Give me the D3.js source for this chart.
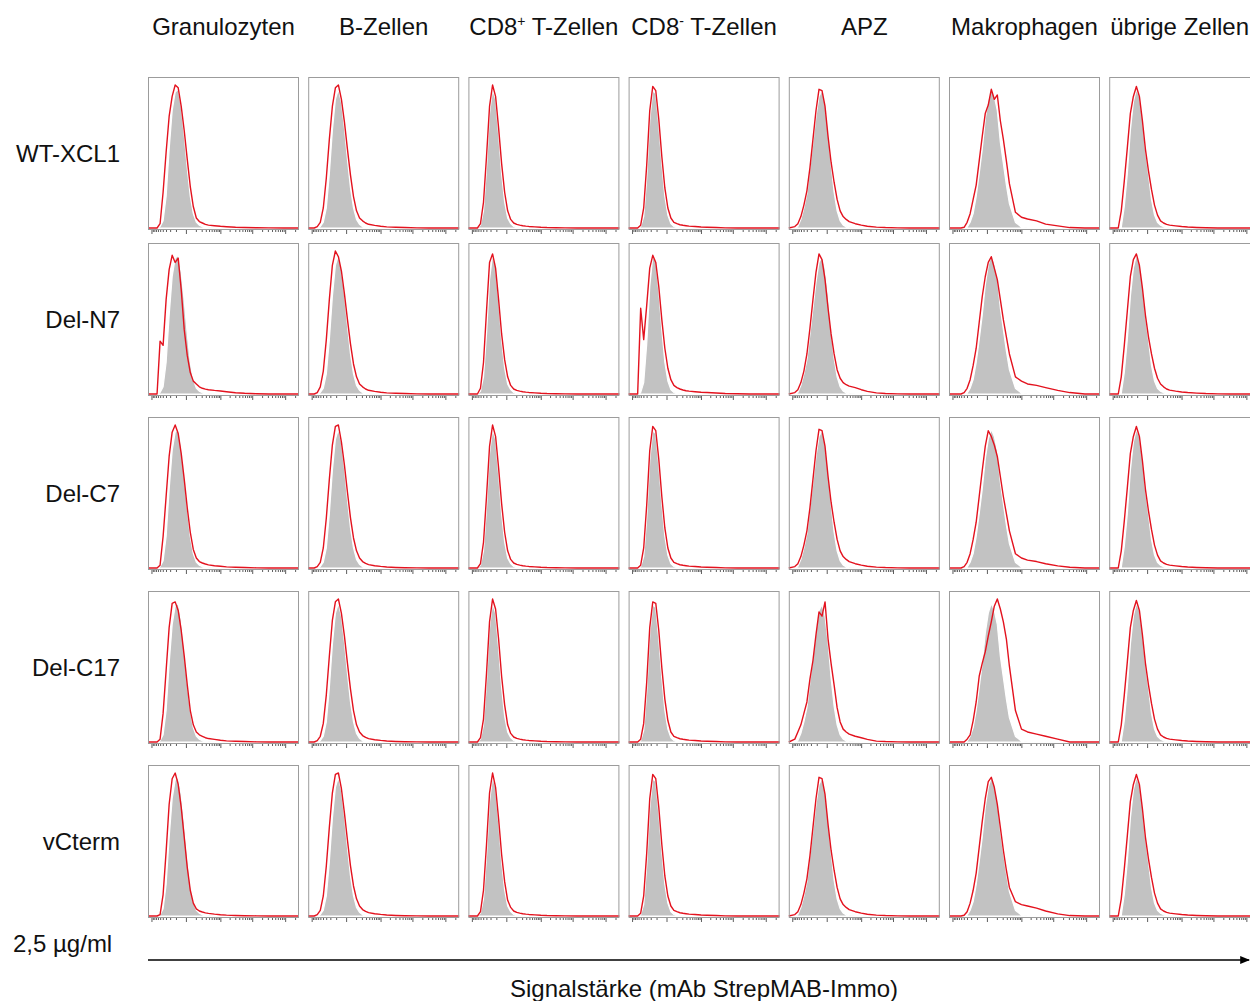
<!DOCTYPE html>
<html>
<head>
<meta charset="utf-8">
<script src="https://d3js.org/d3.v7.min.js"></script>
<style>
  body { margin: 0; background: #fff; }
  text { font-family: "Liberation Sans", Arial, sans-serif; fill: #111; }
  .frame { fill: none; stroke: #9c9c9c; stroke-width: 1; }
  .iso { fill: #c2c2c2; stroke: #fff; stroke-width: 1.2; }
  .stain { fill: none; stroke: #e3121e; stroke-width: 1.4; stroke-linejoin: round; }
  .axis .domain { display: none; }
  .axis .tick line { stroke: #333; stroke-width: 0.8; }
</style>
</head>
<body>
<svg width="1250" height="1001"></svg>
<script>
// cell populations (columns) and XCL1 constructs (rows)
const cellTypes = ["Granulozyten", "B-Zellen", "CD8+ T-Zellen", "CD8- T-Zellen", "APZ", "Makrophagen", "übrige Zellen"];
const constructs = ["WT-XCL1", "Del-N7", "Del-C7", "Del-C17", "vCterm"];
const concentration = "2,5 µg/ml";
const axisTitle = "Signalstärke (mAb StrepMAB-Immo)";

// display position of each histogram bin, % of the axis
const channels = [0, 4, 6, 8, 10, 12, 14, 16, 18, 20, 22, 24, 26, 28, 30, 32, 34, 36, 38, 40, 44, 48, 52, 58, 64, 72, 80, 90, 100];

// isotype control (grey), % of mode, one per cell type
const isoGranulozyten = [0,0,0,1,5,22,55,82,95,97,85,65,42,22,10,4,2,1,0.5,0.3,0,0,0,0,0,0,0,0,0];
const isoBZellen      = [0,0,0,1,4,14,38,68,90,97,88,70,48,28,14,6,2.5,1,0.5,0.2,0,0,0,0,0,0,0,0,0];
const isoCD8pos       = [0,0,0,2,12,42,80,97,90,66,38,18,7,3,1,0.5,0,0,0,0,0,0,0,0,0,0,0,0,0];
const isoCD8neg       = [0,0,0,1,8,35,75,96,94,72,45,22,9,3,1,0.5,0,0,0,0,0,0,0,0,0,0,0,0,0];
const isoAPZ          = [0,0,1,6,14,24,42,60,78,92,96,88,70,45,25,12,5,2,0.8,0.3,0,0,0,0,0,0,0,0,0];
const isoMakrophagen  = [0,0,0,0,0,0.5,4,10,22,38,55,76,90,97,92,82,60,45,30,17,4,0.5,0,0,0,0,0,0,0];
const isoUebrige      = [0,0,0,0.5,15,38,68,88,97,92,78,55,38,20,9,4,2,1,0.5,0,0,0,0,0,0,0,0,0,0];

// StrepMAB-Immo staining (red), % of mode, rows = constructs
const stainGranulozyten = [
  [0,0,0,3,25,53,78,92,100,98,85,68,48,29,15,7,4.5,3.5,2.5,2,1.6,1.2,0.9,0.5,0.3,0.2,0.1,0,0],
  [0,0,0,37,34,66,87,97,92,95,73,45,27,15,9,7,5,4,3.4,3,2.5,2.1,1.6,0.9,0.5,0.2,0,0,0],
  [0,0,0,2,22,50,78,95,100,94,80,62,42,25,13,7,4.5,3.5,2.8,2.2,1.6,1.2,0.8,0.5,0.3,0.1,0,0,0],
  [0,0,0,2,20,50,80,97,98,92,78,60,40,22,12,7,5,4,3,2.4,1.8,1.2,0.8,0.5,0.3,0.1,0,0,0],
  [0,0,0,1,15,45,78,96,100,92,76,55,34,18,9,5,3.5,2.8,2.2,1.8,1.3,0.9,0.6,0.4,0.2,0.1,0,0,0]
];
const stainBZellen = [
  [0,0,1,4,14,35,62,85,98,100,90,74,55,37,22,12,7,5,3.5,2.6,1.8,1.2,0.8,0.5,0.3,0.1,0,0,0],
  [0,0,1,5,16,38,66,90,100,96,86,70,52,35,21,12,7,5,3.5,2.6,1.8,1.2,0.8,0.5,0.3,0.1,0,0,0],
  [0,0,1,4,14,35,62,86,99,100,88,72,53,35,21,12,7,4.5,3.2,2.4,1.6,1.1,0.7,0.4,0.2,0.1,0,0,0],
  [0,0,1,4,13,33,60,85,98,100,90,74,55,37,22,12,7,4.5,3.2,2.4,1.6,1.1,0.7,0.4,0.2,0.1,0,0,0],
  [0,0,1,4,14,35,62,86,99,100,89,72,53,35,21,12,7,4.5,3.2,2.4,1.6,1.1,0.7,0.4,0.2,0.1,0,0,0]
];
const stainCD8pos = [
  [0,0,0,3,18,50,85,100,92,70,45,25,12,6,3.5,2.5,2,1.6,1.3,1.1,0.8,0.5,0.3,0.2,0.1,0,0,0,0],
  [0,0,0,4,22,58,92,98,88,66,42,24,12,6,3.5,2.5,2,1.6,1.3,1.1,0.8,0.5,0.3,0.2,0.1,0,0,0,0],
  [0,0,0,3,18,50,85,100,92,70,45,25,12,6,3.5,2.5,2,1.6,1.3,1.1,0.8,0.5,0.3,0.2,0.1,0,0,0,0],
  [0,0,0,3,16,48,84,100,93,72,46,26,12,6,3.5,2.5,2,1.6,1.3,1.1,0.8,0.5,0.3,0.2,0.1,0,0,0,0],
  [0,0,0,3,18,50,86,100,90,68,43,24,11,6,3.5,2.5,2,1.6,1.3,1.1,0.8,0.5,0.3,0.2,0.1,0,0,0,0]
];
const stainCD8neg = [
  [0,0,0,2,14,44,82,99,96,76,50,28,14,7,4,3,2.3,1.9,1.6,1.3,1,0.7,0.5,0.3,0.1,0,0,0,0],
  [0,0,0,60,38,62,88,97,92,75,52,32,18,10,6,4.5,3.5,2.8,2.3,2,1.6,1.2,1,0.7,0.4,0.2,0,0,0],
  [0,0,0,2,14,44,82,99,96,76,50,28,14,7,4,3,2.3,1.9,1.6,1.3,1,0.7,0.5,0.3,0.1,0,0,0,0],
  [0,0,0,2,13,42,80,98,97,78,52,30,15,7,4,3,2.3,1.9,1.6,1.3,1,0.7,0.5,0.3,0.1,0,0,0,0],
  [0,0,0,2,14,44,82,99,96,76,50,28,14,7,4,3,2.3,1.9,1.6,1.3,1,0.7,0.5,0.3,0.1,0,0,0,0]
];
const stainAPZ = [
  [0,1,3,8,16,26,42,62,82,97,96,85,64,46,32,20,12,8,6,4.5,3,2,1.2,0.6,0.3,0.1,0,0,0],
  [0,1,3,8,16,28,46,66,85,98,94,80,60,42,28,17,11,8,6.5,5.5,4.5,3,1.8,0.8,0.3,0.1,0,0,0],
  [0,1,3,8,16,26,42,62,82,97,96,85,64,46,32,20,12,8,6,4.5,3,2,1.2,0.6,0.3,0.1,0,0,0],
  [0,2,7,12,20,28,44,57,75,91,88,98,72,55,40,24,14,9,7,5.5,4,3,1.8,0.6,0.3,0.1,0,0,0],
  [0,1,3,8,16,26,42,62,82,97,96,85,64,46,32,20,12,8,6,4.5,3,2,1.2,0.6,0.3,0.1,0,0,0]
];
const stainMakrophagen = [
  [0,0,0,0,0.5,4,10,20,30,47,64,80,86,97,90,93,75,62,47,31,11,7.5,6.3,5,2.7,1.5,0.3,0,0],
  [0,0,0,0,1,4,10,20,32,50,68,82,92,96,88,80,66,52,40,28,12,9,7,6,4.5,2.5,1,0,0],
  [0,0,0,0,1,4,10,20,32,50,68,85,96,92,86,78,64,50,38,26,10,7,5.5,4.5,3,1.5,0.5,0,0],
  [0,0,0,0,0,2,5,15,28,46,55,63,74,84,95,100,93,84,72,53,22,9,7,5.5,4,2,0,0,0],
  [0,0,0,0,0.5,3,9,18,30,48,66,82,94,97,90,78,62,46,32,20,10,8,7,5.5,3.5,1.5,0.3,0,0]
];
const stainUebrige = [
  [0,0,0,12,33,56,80,92,99,92,75,55,40,27,16,9,5,3.5,2.5,2,1.5,1,0.7,0.4,0.2,0,0,0,0],
  [0,0,0,12,34,58,82,94,98,90,74,55,40,28,18,11,7,5,3.5,2.7,2,1.4,1,0.6,0.3,0.1,0,0,0],
  [0,0,0,12,33,56,80,92,99,92,75,55,40,27,16,9,5,3.5,2.5,2,1.5,1,0.7,0.4,0.2,0,0,0,0],
  [0,0,0,12,33,56,80,92,99,92,75,55,40,27,16,9,5,3.5,2.5,2,1.5,1,0.7,0.4,0.2,0,0,0,0],
  [0,0,0,12,33,56,80,92,99,92,75,55,40,27,16,9,5,3.5,2.5,2,1.5,1,0.7,0.4,0.2,0,0,0,0]
];

const isoByCell = [isoGranulozyten, isoBZellen, isoCD8pos, isoCD8neg, isoAPZ, isoMakrophagen, isoUebrige];
const stainByCell = [stainGranulozyten, stainBZellen, stainCD8pos, stainCD8neg, stainAPZ, stainMakrophagen, stainUebrige];

// biexponential-like fluorescence axis (unlabelled ticks)
const majorTicks = [-1000, 0, 1000, 10000, 100000];
const minorTicks = [-900,-800,-700,-600,-500,-400,-300,-200,-100,100,200,300,400,500,600,700,800,900,
  2000,3000,4000,5000,6000,7000,8000,9000,20000,30000,40000,50000,60000,70000,80000,90000,200000];

const svg = d3.select("svg");
const W = 1250;
const panelW = 151, panelH = 153;
const colLeft = i => 148 + i * 160.2;
const rowTop = [77, 243, 417, 591, 765];

const x = d3.scaleLinear().domain([0, 100]).range([0, panelW]);
const y = d3.scaleLinear().domain([0, 100]).range([panelH - 2, 8]);
const fl = d3.scaleSymlog().constant(100).domain([-1300, 262144]).range([0, panelW]);

const area = d3.area()
  .x((d, i) => x(channels[i]))
  .y0(y(0))
  .y1(d => y(d));
const line = d3.line()
  .x((d, i) => x(channels[i]))
  .y(d => y(d));

const majorAxis = d3.axisBottom(fl).tickValues(majorTicks).tickSize(4).tickFormat("");
const minorAxis = d3.axisBottom(fl).tickValues(minorTicks).tickSize(2).tickFormat("");

// column headers
const headers = svg.append("g");
cellTypes.forEach((c, i) => {
  const t = headers.append("text")
    .attr("x", colLeft(i) + panelW / 2)
    .attr("y", 35)
    .attr("text-anchor", "middle")
    .style("font-size", "24px");
  const m = c.match(/^CD8([+-])(.*)$/);
  if (m) {
    t.append("tspan").text("CD8");
    t.append("tspan").text(m[1] === "+" ? "+" : "-")
      .style("font-size", "14px").attr("dy", -9);
    t.append("tspan").text(m[2]).attr("dy", 9);
  } else {
    t.text(c);
  }
  // keep the last header inside the picture
  const box = t.node().getBBox();
  if (box.x + box.width > W - 1) {
    t.attr("text-anchor", "end").attr("x", W - 1);
  }
});

// row labels
constructs.forEach((r, j) => {
  svg.append("text")
    .attr("x", 120)
    .attr("y", rowTop[j] + panelH / 2 + 8)
    .attr("text-anchor", "end")
    .style("font-size", "24px")
    .text(r);
});

// panels
constructs.forEach((r, j) => {
  cellTypes.forEach((c, i) => {
    const g = svg.append("g")
      .attr("transform", `translate(${colLeft(i)},${rowTop[j]})`);
    g.append("path").attr("class", "iso").attr("d", area(isoByCell[i]));
    g.append("path").attr("class", "stain").attr("d", line(stainByCell[i][j]));
    g.append("rect").attr("class", "frame")
      .attr("x", 0.5).attr("y", 0.5)
      .attr("width", panelW - 1).attr("height", panelH - 1);
    g.append("g").attr("class", "axis").attr("transform", `translate(0,${panelH})`).call(majorAxis);
    g.append("g").attr("class", "axis").attr("transform", `translate(0,${panelH})`).call(minorAxis);
  });
});

// concentration + signal arrow
svg.append("text")
  .attr("x", 13).attr("y", 952)
  .style("font-size", "24px")
  .text(concentration);

svg.append("defs").append("marker")
  .attr("id", "arrow")
  .attr("viewBox", "0 0 10 10")
  .attr("refX", 9).attr("refY", 5)
  .attr("markerWidth", 7).attr("markerHeight", 7)
  .attr("orient", "auto")
  .append("path").attr("d", "M0,1 L10,5 L0,9 z").attr("fill", "#000");

svg.append("line")
  .attr("x1", 148).attr("x2", 1249)
  .attr("y1", 960).attr("y2", 960)
  .attr("stroke", "#000").attr("stroke-width", 1.4)
  .attr("marker-end", "url(#arrow)");

svg.append("text")
  .attr("x", 704).attr("y", 997)
  .attr("text-anchor", "middle")
  .style("font-size", "24px")
  .text(axisTitle);
</script>
</body>
</html>
